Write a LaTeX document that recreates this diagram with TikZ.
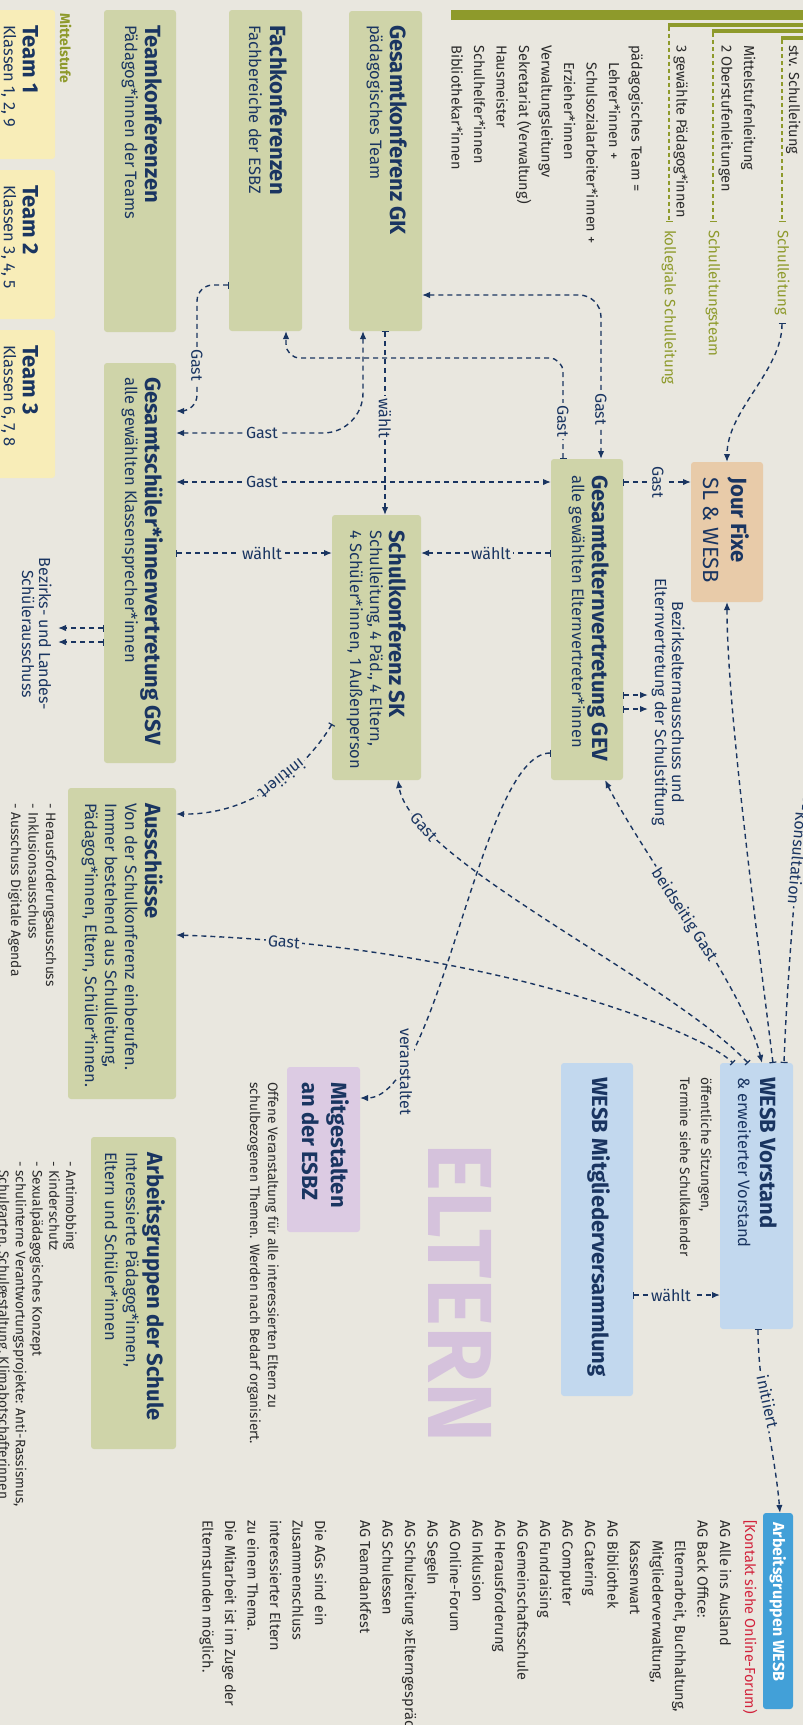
\documentclass[tikz,border=0pt]{standalone}
\usepackage{fontspec}
\setmainfont{Fira Sans}
\usetikzlibrary{arrows.meta,calc}
\definecolor{bgc}{HTML}{E9E7DF}
\definecolor{navy}{HTML}{1A3561}
\definecolor{olivebox}{HTML}{CFD4A9}
\definecolor{yellowbox}{HTML}{F8EDB8}
\definecolor{olivedark}{HTML}{8E9A2B}
\definecolor{peach}{HTML}{E8CBA9}
\definecolor{lightblue}{HTML}{C2D8EE}
\definecolor{strongblue}{HTML}{42A0D8}
\definecolor{lavbox}{HTML}{DCCBE3}
\definecolor{lavtext}{HTML}{D5C2DC}
\definecolor{redtext}{HTML}{D2233C}
\definecolor{graytext}{HTML}{2B2B2B}
\tikzset{
  Arw/.tip={Latex[length=8pt,width=6.5pt]},
  Tck/.tip={Bar[width=7pt,line width=1.2pt]},
  box/.style={rounded corners=3pt,inner sep=0pt,outer sep=0pt,anchor=south west},
  ttl/.style={font=\fontsize{22}{26}\selectfont\bfseries,text=navy,inner sep=0pt,anchor=base west},
  sub/.style={font=\fontsize{16.5}{20}\selectfont,text=navy,inner sep=0pt,anchor=base west},
  lst/.style={font=\fontsize{14.5}{17}\selectfont,text=graytext,inner sep=0pt,anchor=base west},
  sml/.style={font=\fontsize{13.7}{16}\selectfont,text=graytext,inner sep=0pt,anchor=base west},
  lbl/.style={font=\fontsize{16}{18}\selectfont,text=navy,fill=bgc,inner sep=2pt},
  olv/.style={font=\fontsize{15}{18}\selectfont,text=olivedark,inner sep=0pt,anchor=west},
  conn/.style={draw=navy,line width=1.4pt,dash pattern=on 5pt off 4pt},
  oconn/.style={draw=olivedark,line width=1.3pt,dash pattern=on 4pt off 3pt},
}
\begin{document}
\begin{tikzpicture}[x=1pt,y=1pt]
\begin{scope}[rotate=-90,transform shape]
\path[use as bounding box,fill=bgc] (0,0) rectangle (1725,803);

% ---------- boxes ----------
\node[box,fill=yellowbox,minimum width=149,minimum height=60] (team1) at (10,-5) {};
\node[box,fill=yellowbox,minimum width=149,minimum height=60] (team2) at (170,-5) {};
\node[box,fill=yellowbox,minimum width=148,minimum height=60] (team3) at (330,-5) {};
\node[box,fill=olivebox,minimum width=322,minimum height=72] (tk) at (10,104) {};
\node[box,fill=olivebox,minimum width=321,minimum height=73] (fk) at (10,229) {};
\node[box,fill=olivebox,minimum width=320,minimum height=73] (gk) at (11,349) {};
\node[box,fill=olivebox,minimum width=400,minimum height=72] (gsv) at (363,104) {};
\node[box,fill=olivebox,minimum width=265,minimum height=89] (sk) at (515,332) {};
\node[box,fill=olivebox,minimum width=321,minimum height=72] (gev) at (459,551) {};
\node[box,fill=peach,minimum width=140,minimum height=72] (jf) at (462,691) {};
\node[box,fill=olivebox,minimum width=311,minimum height=108] (aus) at (788,68) {};
\node[box,fill=lavbox,minimum width=165,minimum height=73] (mit) at (1067,287) {};
\node[box,fill=olivebox,minimum width=312,minimum height=85] (ags) at (1137,91) {};
\node[box,fill=lightblue,minimum width=266,minimum height=73] (wv) at (1063,720) {};
\node[box,fill=lightblue,minimum width=333,minimum height=72] (wm) at (1063,561) {};
\node[box,fill=strongblue,minimum width=196,minimum height=30] (agw) at (1513,763) {};

% ---------- olive bars ----------
\node[box,rounded corners=0pt,fill=olivedark,minimum width=10.3,minimum height=360] (bar1) at (9.7,451) {};
\node[box,rounded corners=0pt,fill=olivedark,minimum width=4,minimum height=142] (bar2) at (22.7,668) {};
\node[box,rounded corners=0pt,fill=olivedark,minimum width=4,minimum height=98] (bar3) at (29,712) {};
\node[box,rounded corners=0pt,fill=olivedark,minimum width=4,minimum height=29] (bar4) at (36,781) {};
\node[olv] (kslT) at (230,669) {kollegiale Schulleitung};
\node[olv] (sltT) at (230,713) {Schulleitungsteam};
\node[olv] (slT) at (230,782) {Schulleitung};
\draw[oconn,-Tck] ($(bar2.south east)+(0,1)$) -- ($(kslT.west)+(-8,0)$);
\draw[oconn,-Tck] ($(bar3.south east)+(0,1)$) -- ($(sltT.west)+(-8,0)$);
\draw[oconn,-Tck] ($(bar4.south east)+(0,1)$) -- ($(slT.west)+(-8,0)$);

% ---------- header list ----------
\node[lst] (h1) at (45,789) {stv. Schulleitung};
\node[lst] (h2) at (45,744) {Mittelstufenleitung};
\node[lst] (h3) at (45,721.5) {2 Oberstufenleitungen};
\node[lst] (h4) at (45,676.5) {3 gewählte Pädagog*innen};
\node[lst] (h5) at (45,631.5) {pädagogisches Team =};
\node[lst] (h6) at (62,609) {Lehrer*innen +};
\node[lst] (h7) at (62,586.5) {Schulsozialarbeiter*innen +};
\node[lst] (h8) at (62,564) {Erzieher*innen};
\node[lst] (h9) at (45,541.5) {Verwaltungsleitungv};
\node[lst] (h10) at (45,519) {Sekretariat (Verwaltung)};
\node[lst] (h11) at (45,496.5) {Hausmeister};
\node[lst] (h12) at (45,474) {Schulhelfer*innen};
\node[lst] (h13) at (45,451.5) {Bibliothekar*innen};

% ---------- box texts ----------
\node[font=\fontsize{14}{16}\selectfont\bfseries,text=olivedark,inner sep=0pt,anchor=base west] (mst) at (13,60) {Mittelstufe};
\node[ttl] (t1a) at (25,23) {Team 1};
\node[sub] (t1b) at (25,4) {Klassen 1, 2, 9};
\node[ttl] (t2a) at (185,23) {Team 2};
\node[sub] (t2b) at (185,4) {Klassen 3, 4, 5};
\node[ttl] (t3a) at (345,23) {Team 3};
\node[sub] (t3b) at (345,4) {Klassen 6, 7, 8};
\node[ttl] (tkT) at (25,145) {Teamkonferenzen};
\node[sub] (tkS) at (25,125) {Pädagog*innen der Teams};
\node[ttl] (fkT) at (25,270) {Fachkonferenzen};
\node[sub] (fkS) at (25,249) {Fachbereiche der ESBZ};
\node[ttl] (gkT) at (25,390) {Gesamtkonferenz GK};
\node[sub] (gkS) at (25,370) {pädagogisches Team};
\node[ttl] (gsvT) at (377,145) {Gesamtschüler*innenvertretung GSV};
\node[sub] (gsvS) at (377,125) {alle gewählten Klassensprecher*innen};
\node[ttl] (skT) at (530,389) {Schulkonferenz SK};
\node[sub] (skS1) at (530,370) {Schulleitung, 4 Päd., 4 Eltern,};
\node[sub] (skS2) at (530,350) {4 Schüler*innen, 1 Außenperson};
\node[ttl] (gevT) at (475,592) {Gesamtelternvertretung GEV};
\node[sub] (gevS) at (475,572) {alle gewählten Elternvertreter*innen};
\node[ttl] (jfT) at (477,731) {Jour Fixe};
\node[font=\fontsize{22}{26}\selectfont,text=navy,inner sep=0pt,anchor=base west] (jfS) at (477,703) {SL \& WESB};
\node[ttl] (ausT) at (803,145) {Ausschüsse};
\node[sub] (ausS1) at (803,125) {Von der Schulkonferenz einberufen.};
\node[sub] (ausS2) at (803,105) {Immer bestehend aus Schulleitung,};
\node[sub] (ausS3) at (803,85) {Pädagog*innen, Eltern, Schüler*innen.};
\node[sml] (ausL1) at (803,46) {- Herausforderungsausschuss};
\node[sml] (ausL2) at (803,28.5) {- Inklusionsausschuss};
\node[sml] (ausL3) at (803,11) {- Ausschuss Digitale Agenda};
\node[ttl] (mitT1) at (1082,331) {Mitgestalten};
\node[ttl] (mitT2) at (1082,302) {an der ESBZ};
\node[sml] (mitL1) at (1082,268) {Offene Veranstaltung für alle interessierten Eltern zu};
\node[sml] (mitL2) at (1082,250) {schulbezogenen Themen. Werden nach Bedarf organisiert.};
\node[ttl] (agsT) at (1152,147) {Arbeitsgruppen der Schule};
\node[sub] (agsS1) at (1152,126) {Interessierte Pädagog*innen,};
\node[sub] (agsS2) at (1152,105) {Eltern und Schüler*innen};
\node[sml] (agsL1) at (1161,66) {- Antimobbing};
\node[sml] (agsL2) at (1161,49.3) {- Kinderschutz};
\node[sml] (agsL3) at (1161,32.6) {- Sexualpädagogisches Konzept};
\node[sml] (agsL4) at (1161,15.9) {- schulinterne Verantwortungsprojekte: Anti-Rassismus,};
\node[sml] (agsL5) at (1170,-0.8) {Schulgarten, Schulgestaltung, Klimabotschafterinnen};
\node[ttl] (wvT) at (1077,760) {WESB Vorstand};
\node[sub] (wvS) at (1077,738) {\& erweiterter Vorstand};
\node[sml] (wvL1) at (1077,701) {öffentliche Sitzungen,};
\node[sml] (wvL2) at (1077,680) {Termine siehe Schulkalender};
\node[ttl] (wmT) at (1077,592) {WESB Mitgliederversammlung};
\node[font=\fontsize{16}{18}\selectfont\bfseries,text=white,inner sep=0pt,anchor=base west] (agwT) at (1522,773) {Arbeitsgruppen WESB};
\node[font=\fontsize{91}{92}\selectfont\bfseries,text=lavtext,inner sep=0pt,anchor=base west] (eltern) at (1143,428) {ELTERN};

% ---------- AG WESB list ----------
\node[lst,text=redtext] (k0) at (1520,745) {[Kontakt siehe Online-Forum)};
\node[lst] (a1) at (1520,720) {AG Alle ins Ausland};
\node[lst] (a2) at (1520,697.5) {AG Back Office:};
\node[lst] (a3) at (1540,675) {Elternarbeit, Buchhaltung,};
\node[lst] (a4) at (1540,652.5) {Mitgliederverwaltung,};
\node[lst] (a5) at (1540,630) {Kassenwart};
\node[lst] (a6) at (1520,607.5) {AG Bibliothek};
\node[lst] (a7) at (1520,585) {AG Catering};
\node[lst] (a8) at (1520,562.5) {AG Computer};
\node[lst] (a9) at (1520,540) {AG Fundraising};
\node[lst] (a10) at (1520,517.5) {AG Gemeinschaftsschule};
\node[lst] (a11) at (1520,495) {AG Herausforderung};
\node[lst] (a12) at (1520,472.5) {AG Inklusion};
\node[lst] (a13) at (1520,450) {AG Online-Forum};
\node[lst] (a14) at (1520,427.5) {AG Segeln};
\node[lst] (a15) at (1520,405) {AG Schulzeitung »Elterngespräch«};
\node[lst] (a16) at (1520,382.5) {AG Schulessen};
\node[lst] (a17) at (1520,360) {AG Teamdankfest};
\node[lst] (a18) at (1520,315) {Die AGs sind ein};
\node[lst] (a19) at (1520,292.5) {Zusammenschluss};
\node[lst] (a20) at (1520,270) {interessierter Eltern};
\node[lst] (a21) at (1520,247.5) {zu einem Thema.};
\node[lst] (a22) at (1520,225) {Die Mitarbeit ist im Zuge der};
\node[lst] (a23) at (1520,202.5) {Elternstunden möglich.};

% ---------- outside labels ----------
\node[font=\fontsize{16}{18}\selectfont,text=navy,inner sep=0pt,anchor=base] (bez1) at (702,672) {Bezirkselternausschuss und};
\node[font=\fontsize{16}{18}\selectfont,text=navy,inner sep=0pt,anchor=base] (bez2) at (702,655) {Elternvertretung der Schulstiftung};
\node[font=\fontsize{16}{18}\selectfont,text=navy,inner sep=0pt,anchor=base] (bzs1) at (634,39) {Bezirks- und Landes-};
\node[font=\fontsize{16}{18}\selectfont,text=navy,inner sep=0pt,anchor=base] (bzs2) at (634,22) {Schülerausschuss};

% ---------- connectors ----------
\coordinate (c5) at ($(gsv.north west)+(70,187)$);
\coordinate (c6a) at ($(fk.south west)+(275,-32)$);
\coordinate (c6b) at ($(gsv.north west)+(48,21)$);
\coordinate (c7) at ($(gk.north west)+(284,179)$);
\coordinate (c8a) at ($(gev.south west)+(-101,12)$);
\coordinate (c8b) at ($(fk.south east)+(27,57)$);
\coordinate (kstart) at (760,808);
\coordinate (be1) at (695,648);
\coordinate (be2) at (709,648);
\coordinate (bs1) at (628,58);
\coordinate (bs2) at (642,58);

\draw[conn,Tck-Arw] ($(gk.south east)+(0,36)$) -- ($(sk.south west)+(0,53)$);
\draw[conn,Tck-Arw] ($(gsv.north west)+(190,0)$) -- ($(sk.south west)+(38,0)$);
\draw[conn,Tck-Arw] ($(gev.south west)+(94,0)$) -- ($(sk.north west)+(38,0)$);
\draw[conn,Arw-Arw] ($(gsv.north west)+(119,0)$) -- ($(gev.south west)+(23,0)$);
\draw[conn,Arw-Arw,rounded corners=40pt] ($(gsv.north west)+(70,0)$) -- (c5) -- ($(gk.south east)+(0,14)$);
\draw[conn,Tck-Arw,rounded corners=16pt] ($(fk.south west)+(275,0)$) -- (c6a) -- (c6b) -- ($(gsv.north west)+(48,0)$);
\draw[conn,Arw-Arw,rounded corners=22pt] ($(gk.north west)+(284,0)$) -- (c7) -- ($(gev.south west)+(0,50)$);
\draw[conn,Tck-Arw,rounded corners=14pt] ($(gev.south west)+(0,12)$) -- (c8a) -- (c8b) -- ($(fk.south east)+(0,57)$);
\draw[conn,Tck-Arw] ($(gev.north west)+(23,0)$) -- ($(jf.south west)+(20,0)$);
\draw[conn,Tck-Arw] ($(slT.east)+(8,0)$) .. controls +(48,0) and +(-52,0) .. (jf.west);
\draw[conn,Tck-Arw] ($(wv.south west)+(0,53)$) .. controls +(-160,-20) and +(100,0) .. (jf.east);
\draw[conn,-Tck] (kstart) .. controls (860,796) and (1000,786) .. ($(wv.south west)+(0,64)$);
\draw[conn,Arw-Arw] ($(gev.south east)+(0,54)$) .. controls (850,640) and (990,745) .. ($(wv.south west)+(0,42)$);
\draw[conn,Tck-Arw] ($(wv.south west)+(0,28)$) .. controls (980,670) and (860,410) .. ($(sk.south east)+(0,66)$);
\draw[conn,Arw-Tck] ($(aus.north west)+(147,0)$) .. controls (945,480) and (1030,700) .. ($(wv.south west)+(0,13)$);
\draw[conn,Tck-Arw] ($(sk.south west)+(209,0)$) .. controls (745,320) and (815,270) .. ($(aus.north west)+(26,0)$);
\draw[conn,Tck-Arw] ($(gev.south west)+(294,0)$) .. controls (753,480) and (1098,440) .. ($(mit.north west)+(31,0)$);
\draw[conn,Tck-Arw] ($(wm.north west)+(232,0)$) -- ($(wv.south west)+(232,0)$);
\draw[conn,Tck-Arw] ($(wv.south east)+(0,38)$) .. controls +(60,0) and +(-60,-5) .. ($(agw.south west)+(0,17)$);
\draw[conn,Tck-Arw] ($(gev.north west)+(236,0)$) -- (be1);
\draw[conn,Tck-Arw] ($(gev.north west)+(250,0)$) -- (be2);
\draw[conn,Tck-Arw] ($(gsv.south west)+(265,0)$) -- (bs1);
\draw[conn,Tck-Arw] ($(gsv.south west)+(279,0)$) -- (bs2);

% ---------- connector labels ----------
\node[lbl] (l1) at (418,385) {wählt};
\node[lbl,rotate=90] (l2) at (553,262) {wählt};
\node[lbl,rotate=90] (l3) at (553,491) {wählt};
\node[lbl,rotate=90] (l4) at (482,262) {Gast};
\node[lbl,rotate=90] (l5) at (433,262) {Gast};
\node[lbl] (l6) at (365,197) {Gast};
\node[lbl] (l7) at (409,601) {Gast};
\node[lbl] (l8) at (421,563) {Gast};
\node[lbl] (l9) at (482,658) {Gast};
\node[lbl,rotate=-5] (l12) at (858,798) {Konsultation};
\node[lbl,rotate=33] (l13) at (915,684) {beidseitig Gast};
\node[lbl,rotate=42] (l14) at (827,424) {Gast};
\node[lbl,rotate=85] (l15) at (942,284) {Gast};
\node[lbl,rotate=-52] (l16) at (779,282) {initiiert};
\node[lbl,anchor=base west] (l17) at (1026,400) {veranstaltet};
\node[lbl,rotate=90] (l18) at (1295,671) {wählt};
\node[lbl,rotate=12] (l19) at (1402,768) {initiiert};
\end{scope}
\end{tikzpicture}
\end{document}
